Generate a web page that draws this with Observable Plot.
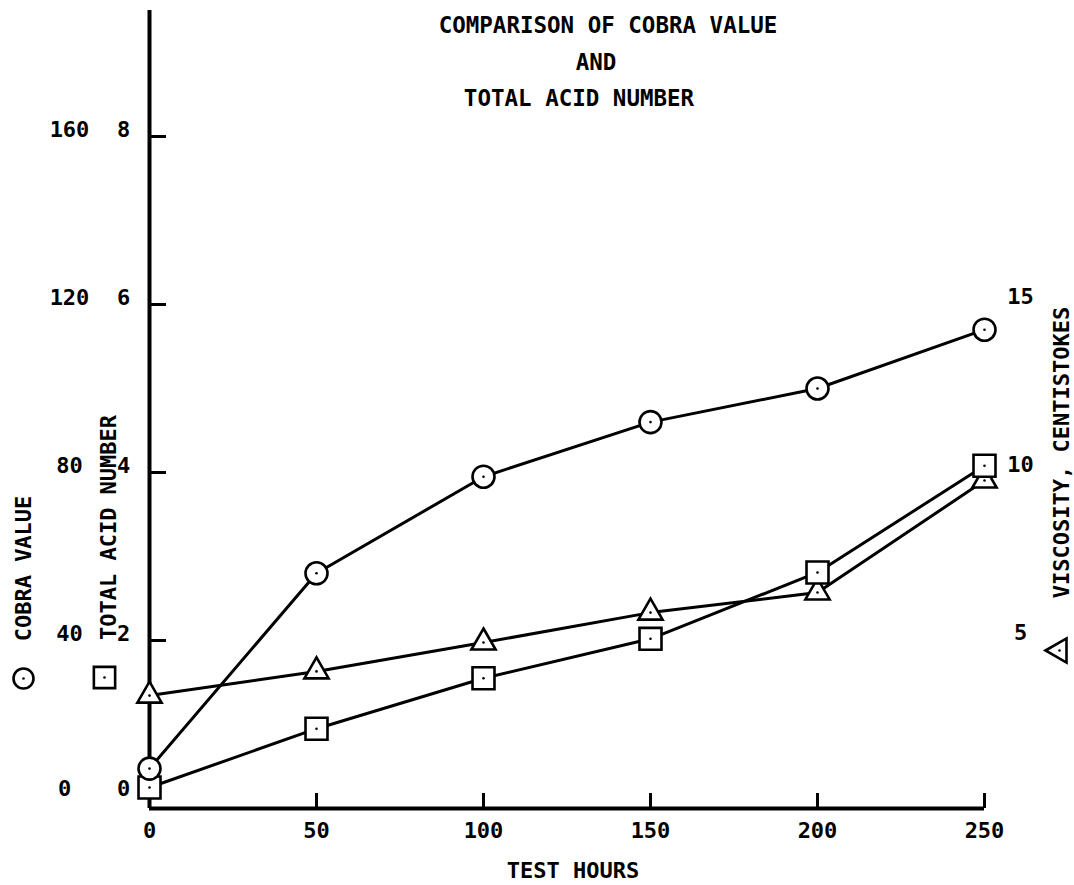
<!DOCTYPE html>
<html><head><meta charset="utf-8">
<script src="https://cdn.jsdelivr.net/npm/d3@7"></script>
<script src="https://cdn.jsdelivr.net/npm/@observablehq/plot@0.6"></script>
<style>body{margin:0;background:#fff}</style>
</head><body><div id="chart"></div>
<script>
// ---- data ----
const hours = [0, 50, 100, 150, 200, 250];
const cobraValue = [9.5, 56, 79, 92, 100, 114];
const totalAcidNumber = [0.25, 0.95, 1.55, 2.02, 2.81, 4.08];
const viscosity = [3.36, 4.08, 4.94, 5.83, 6.43, 9.76];

const xTicks = [0, 50, 100, 150, 200, 250];
const cobraTicks = [0, 40, 80, 120, 160];
const tanTicks = [0, 2, 4, 6, 8];
const viscTicks = [5, 10, 15];
const titleLines = ["COMPARISON OF COBRA VALUE", "AND", "TOTAL ACID NUMBER"];
const xLabel = "TEST HOURS";
const cobraLabel = "COBRA VALUE";
const tanLabel = "TOTAL ACID NUMBER";
const viscLabel = "VISCOSITY, CENTISTOKES";

// all series share the cobra-value scale: 2 TAN units = 40 cobra units, 5 cSt = 40 cobra units
const TAN_K = 20, VISC_K = 8;
const cobraRows = hours.map((h, i) => ({h, v: cobraValue[i]}));
const tanRows = hours.map((h, i) => ({h, v: totalAcidNumber[i] * TAN_K}));
const viscRows = hours.map((h, i) => ({h, v: viscosity[i] * VISC_K}));

const FONT = "DejaVu Sans Mono, monospace";
const txt = {fontWeight: "bold", fill: "black", fontSize: 22, fontFamily: FONT, textAnchor: "middle", lineAnchor: "middle"};
const mk = {fill: "white", stroke: "black", strokeWidth: 2.6};

const seriesMarks = (rows, symbol, r) => [
  Plot.line(rows, {x: "h", y: "v", stroke: "black", strokeWidth: 3}),
  Plot.dot(rows, {x: "h", y: "v", symbol, r, ...mk}),
  Plot.dot(rows, {x: "h", y: "v", r: 1.3, fill: "black"})
];

const chart = Plot.plot({
  width: 1074,
  height: 885,
  marginLeft: 149,
  marginRight: 90,
  marginTop: 10,
  marginBottom: 77,
  style: {background: "white", fontFamily: FONT},
  x: {domain: [0, 250], axis: null},
  y: {domain: [0, 190], axis: null},
  marks: [
    // axis frame lines
    Plot.ruleX([0], {stroke: "black", strokeWidth: 4}),
    Plot.ruleY([0], {x1: 0, x2: 250, stroke: "black", strokeWidth: 4}),
    // inward ticks
    Plot.axisY({ticks: cobraTicks.filter(d => d > 0), tickSize: -17, tickFormat: () => "", label: null, strokeWidth: 3}),
    Plot.axisX({ticks: xTicks.filter(d => d > 0), tickSize: -15, tickFormat: () => "", label: null, strokeWidth: 3}),
    // tick labels
    Plot.text(xTicks, {x: d => d, text: d => String(d), frameAnchor: "bottom", ...txt, dy: 22}),
    Plot.text(cobraTicks.filter(d => d > 0), {y: d => d, text: d => String(d), frameAnchor: "left", ...txt, dx: -80, dy: -7}),
    Plot.text(cobraTicks.filter(d => d === 0), {y: d => d, text: d => String(d), frameAnchor: "left", ...txt, dx: -85, dy: -20}),
    Plot.text(tanTicks.filter(d => d > 0), {y: d => d * TAN_K, text: d => String(d), frameAnchor: "left", ...txt, dx: -26, dy: -7}),
    Plot.text(tanTicks.filter(d => d === 0), {y: d => d * TAN_K, text: d => String(d), frameAnchor: "left", ...txt, dx: -26, dy: -20}),
    Plot.text(viscTicks, {y: d => d * VISC_K, text: d => String(d), frameAnchor: "right", ...txt, dx: 36, dy: -8}),
    // axis titles
    Plot.text([xLabel], {text: d => d, frameAnchor: "bottom", ...txt, dx: 6, dy: 62}),
    Plot.text([cobraLabel], {text: d => d, frameAnchor: "left", ...txt, dx: -126, dy: 159, rotate: -90}),
    Plot.text([tanLabel], {text: d => d, frameAnchor: "left", ...txt, dx: -41, dy: 118, rotate: -90}),
    Plot.text([viscLabel], {text: d => d, frameAnchor: "right", ...txt, dx: 77, dy: 43, rotate: -90}),
    // legend symbols
    Plot.dot([0], {frameAnchor: "left", dx: -126, dy: 269, symbol: "circle", r: 10, ...mk}),
    Plot.dot([0], {frameAnchor: "left", dx: -126, dy: 269, r: 1.3, fill: "black"}),
    Plot.dot([0], {frameAnchor: "left", dx: -45, dy: 268, symbol: "square", r: 12, ...mk}),
    Plot.dot([0], {frameAnchor: "left", dx: -45, dy: 268, r: 1.3, fill: "black"}),
    Plot.dot([0], {frameAnchor: "right", dx: 75, dy: 241, symbol: "triangle", r: 9, rotate: -90, ...mk}),
    Plot.dot([0], {frameAnchor: "right", dx: 75, dy: 241, r: 1.3, fill: "black"}),
    // title
    Plot.text([titleLines[0]], {text: d => d, frameAnchor: "top", ...txt, fontSize: 22.5, dx: 41, dy: 15}),
    Plot.text([titleLines[1]], {text: d => d, frameAnchor: "top", ...txt, fontSize: 22.5, dx: 29, dy: 52}),
    Plot.text([titleLines[2]], {text: d => d, frameAnchor: "top", ...txt, fontSize: 22.5, dx: 12, dy: 88}),
    // series
    ...seriesMarks(viscRows, "triangle", 9),
    ...seriesMarks(tanRows, "square", 12.4),
    ...seriesMarks(cobraRows, "circle", 11)
  ]
});
document.getElementById("chart").appendChild(chart);
</script>
</body></html>
